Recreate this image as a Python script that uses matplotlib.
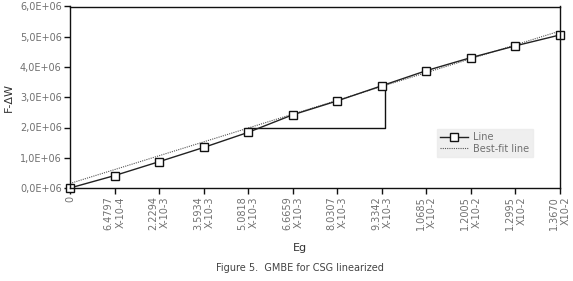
import matplotlib
matplotlib.use("Agg")
import matplotlib.pyplot as plt
import numpy as np

# Data
eg_labels = ["0",
             "6.4797\nX-10-4", "2.2294\nX-10-3", "3.5934\nX-10-3", "5.0818\nX-10-3",
             "6.6659\nX-10-3", "8.0307\nX-10-3", "9.3342\nX-10-3", "1.0685\nX-10-2",
             "1.2005\nX-10-2", "1.2995\nX10-2", "1.3670\nX10-2"]
line_values = [0.0, 0.41e6, 0.87e6, 1.34e6, 1.84e6, 2.42e6, 2.88e6, 3.38e6,
               3.88e6, 4.31e6, 4.70e6, 5.06e6]
bestfit_x = [0, 11]
bestfit_values = [0.15e6, 5.19e6]
triangle_x = [4, 7.08, 7.08]
triangle_y = [1.97e6, 1.97e6, 3.38e6]
yticks = [0, 1e6, 2e6, 3e6, 4e6, 5e6, 6e6]
ytick_labels = ["0,0E+06", "1,0E+06", "2,0E+06", "3,0E+06", "4,0E+06", "5,0E+06", "6,0E+06"]

gray = "#707070"
fig = plt.figure(figsize=(5.73, 2.81), dpi=100)
ax = fig.add_axes([70/573, 1-188/281, 490/573, 181.5/281])

x = np.arange(len(line_values))
bf, = ax.plot(bestfit_x, bestfit_values, linestyle=(0, (1, 1)), color="#555555", lw=0.8,
              label="Best-fit line", zorder=2)
ln, = ax.plot(x, line_values, color="#222222", lw=1.0, marker="s", markersize=5.2,
              markerfacecolor="white", markeredgecolor="#111111", markeredgewidth=1.0,
              label="Line", clip_on=False, zorder=3)
ax.plot(triangle_x, triangle_y, color="#111111", lw=1.0, zorder=2.5)

ax.set_xlim(0, 11)
ax.set_ylim(0, 6e6)
ax.set_xticks(x)
ax.set_xticklabels(eg_labels, rotation=90, fontsize=7, color=gray, linespacing=1.2,
                   va="top", ha="center", multialignment="right")
ax.set_yticks(yticks)
ax.set_yticklabels(ytick_labels, fontsize=7, color=gray)
ax.tick_params(axis="both", direction="out", length=4, width=1, color="#111111", pad=2)
for s in ax.spines.values():
    s.set_color("#111111")
    s.set_linewidth(1.0)
    s.set_zorder(5)

ax.set_ylabel("F-ΔW", fontsize=8, color="#333333", labelpad=4)

leg = ax.legend(handles=[ln, bf],
                loc="lower right", bbox_to_anchor=((533-70)/490, (188-157)/181.5),
                borderaxespad=0, fontsize=7,
                frameon=True, fancybox=False, handlelength=2.8, handletextpad=0.6,
                borderpad=0.35, labelspacing=0.15, labelcolor=gray)
leg.get_frame().set_facecolor("#ebebeb")
leg.get_frame().set_edgecolor("#ebebeb")

fig.text(300/573, 1-248/281, "Eg", fontsize=8, color="#333333", ha="center", va="center")
fig.text(300/573, 1-268/281, "Figure 5.  GMBE for CSG linearized", fontsize=7,
         color="#444444", ha="center", va="center")

fig.savefig("out.png", dpi=100)
